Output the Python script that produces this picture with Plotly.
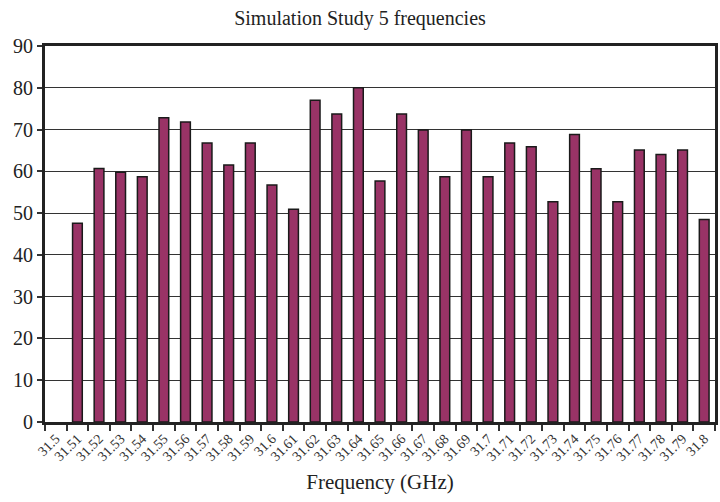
import plotly.graph_objects as go

FREQS = ["31.5", "31.51", "31.52", "31.53", "31.54", "31.55", "31.56", "31.57",
         "31.58", "31.59", "31.6", "31.61", "31.62", "31.63", "31.64", "31.65",
         "31.66", "31.67", "31.68", "31.69", "31.7", "31.71", "31.72", "31.73",
         "31.74", "31.75", "31.76", "31.77", "31.78", "31.79", "31.8"]
VALUES = [None, 47.6, 60.7, 59.8, 58.7, 72.8, 71.8, 66.8, 61.5, 66.8, 56.7,
          50.9, 77.0, 73.7, 80.0, 57.7, 73.7, 69.9, 58.7, 69.9, 58.7,
          66.8, 65.9, 52.7, 68.8, 60.6, 52.7, 65.1, 64.0, 65.1, 48.5]
Y_TICKS = list(range(0, 100, 10))

SERIF = "Liberation Serif, Times New Roman, serif"

fig = go.Figure(go.Bar(
    x=FREQS, y=VALUES,
    marker=dict(color="#993366", line=dict(color="#1a1a1a", width=1.5)),
))

fig.update_layout(
    title=dict(text="Simulation Study 5 frequencies", x=0.5, xanchor="center",
               y=0.965, yanchor="middle", font=dict(family=SERIF, size=20, color="#222")),
    template="plotly_white",
    width=720, height=502,
    margin=dict(l=45, r=2, t=46, b=80),
    bargap=0.55,
    showlegend=False,
    plot_bgcolor="white",
    paper_bgcolor="white",
)

fig.update_xaxes(
    type="category", tickangle=-45, tickson="boundaries",
    ticks="outside", ticklen=6, tickcolor="#333", tickwidth=1.5,
    showline=True, linecolor="#222", linewidth=3, mirror=True,
    showgrid=False,
    tickfont=dict(family=SERIF, size=14, color="#333"),
    title=dict(text="Frequency (GHz)", font=dict(family=SERIF, size=21, color="#222"),
               standoff=12),
)
fig.update_yaxes(
    range=[0, 90], tickvals=Y_TICKS,
    ticks="outside", ticklen=5, tickcolor="#333", tickwidth=1.5,
    showline=True, linecolor="#222", linewidth=3, mirror=True,
    showgrid=True, gridcolor="#333", gridwidth=1,
    zeroline=False,
    tickfont=dict(family=SERIF, size=20, color="#222"),
)

# drop the default page margin so the fixed-size figure sits at the window corner
fig.write_html("out.html", config={"displayModeBar": False},
               post_script="document.body.style.margin='0';document.body.style.overflow='hidden';")
